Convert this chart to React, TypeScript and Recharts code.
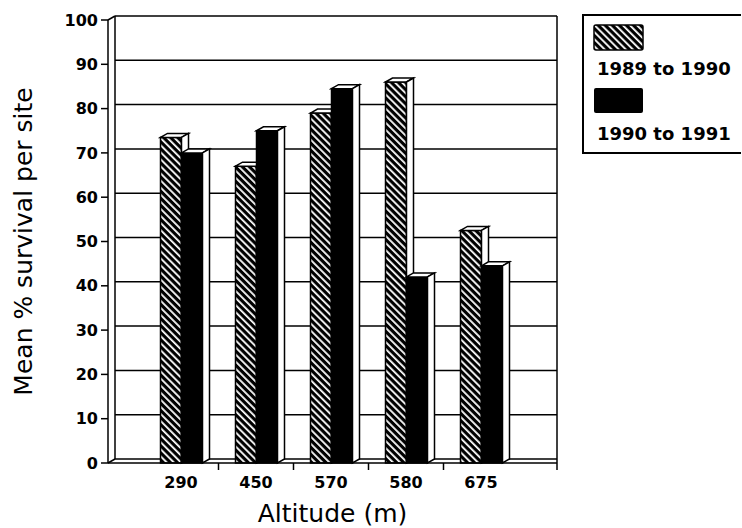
import React from "react";
import { Bar, BarChart, CartesianGrid, XAxis, YAxis } from "recharts";

const altitudes = ["290", "450", "570", "580", "675"];
const survival8990 = [73.5, 67, 79, 86, 52.5];
const survival9091 = [70, 75, 84.5, 42, 44.5];
const seriesNames = ["1989 to 1990", "1990 to 1991"];
const yTicks = [0, 10, 20, 30, 40, 50, 60, 70, 80, 90, 100];

const data = altitudes.map((altitude, i) => ({
  altitude,
  early: survival8990[i],
  late: survival9091[i],
}));

// depth of the fake 3d effect
const DX = 7;
const DY = -4;
const FONT = "'DejaVu Sans', sans-serif";

function Bar3D(props: any) {
  const { x, y, width, height, fill } = props;
  if (width == null || height == null) return null;
  const r = x + width;
  const b = y + height;
  return (
    <g>
      <rect x={x} y={y} width={width} height={height} fill={fill} stroke="#000" strokeWidth={1.5} />
      <polygon
        points={`${x},${y} ${x + DX},${y + DY} ${r + DX},${y + DY} ${r},${y}`}
        fill="#fff"
        stroke="#000"
        strokeWidth={1.5}
      />
      <polygon
        points={`${r},${y} ${r + DX},${y + DY} ${r + DX},${b + DY} ${r},${b}`}
        fill="#fff"
        stroke="#000"
        strokeWidth={1.5}
      />
    </g>
  );
}

function GridLine(props: any) {
  const { x1, x2, y1, index } = props;
  const top = typeof props.y === "number" ? props.y : 20;
  const bottom = typeof props.height === "number" ? top + props.height : 463;
  const line = (
    <line x1={x1 + DX} y1={y1 + DY} x2={x2} y2={y1 + DY} stroke="#000" strokeWidth={1.5} />
  );
  if (index !== 0) return <g key={`h-${index}`}>{line}</g>;
  return (
    <g key={`h-${index}`}>
      {line}
      <line x1={x1 + DX} y1={top + DY} x2={x1 + DX} y2={bottom + DY} stroke="#000" strokeWidth={1.5} />
      <line x1={x2} y1={top + DY} x2={x2} y2={bottom} stroke="#000" strokeWidth={1.5} />
      <line x1={x1} y1={top} x2={x1 + DX} y2={top + DY} stroke="#000" strokeWidth={1.5} />
      <line x1={x1} y1={bottom} x2={x1 + DX} y2={bottom + DY} stroke="#000" strokeWidth={1.5} />
      <line x1={x2} y1={bottom} x2={x2} y2={bottom + 7} stroke="#000" strokeWidth={1.5} />
    </g>
  );
}

function XTick(props: any) {
  const { x, y, payload, index } = props;
  const half = typeof payload?.offset === "number" && payload.offset > 0 ? payload.offset : 37.5;
  return (
    <g>
      {index < altitudes.length - 1 && (
        <line x1={x + half} y1={y} x2={x + half} y2={y + 7} stroke="#000" strokeWidth={1.5} />
      )}
      <text x={x} y={y + 25} textAnchor="middle" fontFamily={FONT} fontWeight="bold" fontSize={16} fill="#000">
        {payload.value}
      </text>
    </g>
  );
}

function YTitle(props: any) {
  const vb = props.viewBox || { x: 8, y: 20, width: 100, height: 443 };
  const cy = vb.y + vb.height / 2;
  return (
    <text
      transform={`translate(${vb.x + 24}, ${cy}) rotate(-90)`}
      textAnchor="middle"
      fontFamily={FONT}
      fontSize={25}
      fill="#000"
    >
      Mean % survival per site
    </text>
  );
}

function LegendBox() {
  return (
    <svg width={159} height={140} style={{ position: "absolute", left: 582, top: 14 }}>
      <defs>
        <pattern id="hatchLegend" patternUnits="userSpaceOnUse" width={5} height={5} patternTransform="rotate(-45)">
          <rect width={5} height={5} fill="#000" />
          <rect width={1.8} height={5} fill="#fff" />
        </pattern>
      </defs>
      <rect x={1} y={1} width={160} height={138} fill="#fff" stroke="#000" strokeWidth={2} />
      <rect x={12} y={11} width={49} height={25} rx={2} fill="url(#hatchLegend)" stroke="#000" strokeWidth={1.5} />
      <text x={15} y={61} fontFamily={FONT} fontWeight="bold" fontSize={18} fill="#000">
        {seriesNames[0]}
      </text>
      <rect x={12} y={74} width={49} height={25} rx={2} fill="#000" />
      <text x={15} y={126} fontFamily={FONT} fontWeight="bold" fontSize={18} fill="#000">
        {seriesNames[1]}
      </text>
    </svg>
  );
}

export default function App() {
  return (
    <div style={{ position: "absolute", left: 0, top: 0, width: 742, height: 528, background: "#fff" }}>
      <BarChart
        width={742}
        height={528}
        data={data}
        margin={{ top: 20, right: 185, bottom: 35, left: 8 }}
        barCategoryGap={17}
        barGap={0}
      >
        <defs>
          <pattern id="hatch" patternUnits="userSpaceOnUse" width={5} height={5} patternTransform="rotate(-45)">
            <rect width={5} height={5} fill="#000" />
            <rect width={1.8} height={5} fill="#fff" />
          </pattern>
        </defs>
        <CartesianGrid vertical={false} horizontal={GridLine} />
        <XAxis
          dataKey="altitude"
          height={30}
          padding={{ left: 35.5, right: 38.5 }}
          axisLine={{ stroke: "#000", strokeWidth: 1.5 }}
          tickLine={false}
          tickSize={0}
          tickMargin={0}
          interval={0}
          tick={XTick}
          label={{
            value: "Altitude (m)",
            position: "bottom",
            offset: 11,
            fill: "#000",
            fontSize: 25,
            fontFamily: FONT,
          }}
        />
        <YAxis
          width={100}
          domain={[0, 100]}
          ticks={yTicks}
          interval={0}
          axisLine={{ stroke: "#000", strokeWidth: 1.5 }}
          tickLine={{ stroke: "#000", strokeWidth: 1.5 }}
          tickSize={7}
          tickMargin={3}
          tick={{ fill: "#000", fontSize: 16, fontWeight: "bold", fontFamily: FONT }}
          label={YTitle}
        />
        <Bar dataKey="early" name={seriesNames[0]} fill="url(#hatch)" shape={Bar3D} isAnimationActive={false} />
        <Bar dataKey="late" name={seriesNames[1]} fill="#000" shape={Bar3D} isAnimationActive={false} />
      </BarChart>
      <LegendBox />
    </div>
  );
}
